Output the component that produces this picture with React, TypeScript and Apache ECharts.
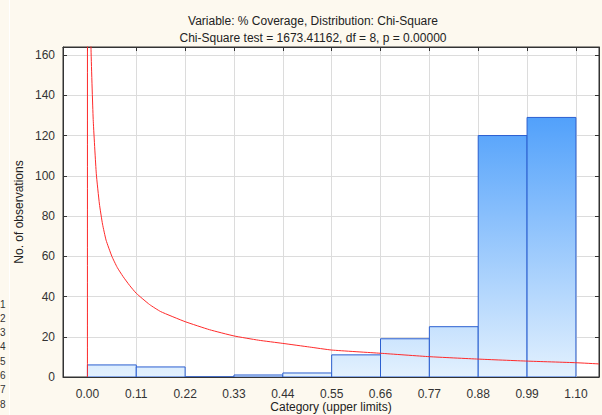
import React, { useEffect, useRef } from "react";
import * as echarts from "echarts";

const titleLine1 = "Variable: % Coverage, Distribution: Chi-Square";
const titleLine2 = "Chi-Square test = 1673.41162, df = 8, p = 0.00000";
const xAxisName = "Category (upper limits)";
const yAxisName = "No. of observations";

const tickValues = [0, 0.11, 0.22, 0.33, 0.44, 0.55, 0.66, 0.77, 0.88, 0.99, 1.1];
const binLower = [0, 0.11, 0.22, 0.33, 0.44, 0.55, 0.66, 0.77, 0.88, 0.99];
const binUpper = [0.11, 0.22, 0.33, 0.44, 0.55, 0.66, 0.77, 0.88, 0.99, 1.1];
const counts = [6, 5, 0, 1, 2, 11, 19, 25, 120, 129];

const curveX = [0, 0.0005, 0.003, 0.008, 0.013, 0.02, 0.027, 0.034, 0.042, 0.055, 0.067, 0.08, 0.095, 0.11, 0.14, 0.165, 0.22, 0.275, 0.33, 0.385, 0.44, 0.5, 0.55, 0.66, 0.77, 0.88, 0.99, 1.1, 1.152];
const curveY = [0, 600, 260, 164, 128, 101, 86, 76, 68, 60, 54.5, 50, 45.5, 41.6, 36, 32.5, 27.5, 23.5, 20.4, 18.3, 16.7, 14.9, 13.4, 11.8, 10.1, 8.9, 7.9, 7.1, 6.5];

const sideDigits = ["1", "2", "3", "4", "5", "6", "7", "8"];

const FONT = "'Liberation Sans', Arial, sans-serif";

export default function App() {
  const ref = useRef<HTMLDivElement>(null);
  useEffect(() => {
    document.body.style.margin = "0";
    if (!ref.current) return;
    const chart = echarts.init(ref.current, undefined, { renderer: "svg" });
    const bins = binLower.map((lo, i) => [lo, binUpper[i], counts[i]]);
    const curve = curveX.map((x, i) => [x, curveY[i]]);
    const stops = [
      { offset: 0, color: "#2a8bfa" },
      { offset: 1, color: "#e3f1fe" },
    ];
    chart.setOption({
      animation: false,
      backgroundColor: "#fdf9ef",
      textStyle: { fontFamily: FONT },
      title: {
        text: titleLine1 + "\n" + titleLine2,
        left: 308,
        top: 7,
        textAlign: "center",
        textStyle: { fontSize: 12, fontWeight: "normal", color: "#222", lineHeight: 17, fontFamily: FONT },
      },
      grid: {
        left: 63,
        right: 3,
        top: 47,
        bottom: 38,
        outerBoundsMode: "none",
        containLabel: false,
        show: true,
        backgroundColor: "#ffffff",
        borderColor: "#333",
        borderWidth: 1,
      },
      graphic: [
        { type: "rect", shape: { x: 9, y: 0, width: 1, height: 415 }, style: { fill: "#ffffff" } },
        ...sideDigits.map((d, i) => ({
          type: "text",
          x: 0,
          y: 304 + i * 14.3,
          style: { text: d, fontSize: 10, fill: "#333", align: "left", verticalAlign: "middle", fontFamily: FONT },
        })),
      ],
      xAxis: [
        {
          type: "value",
          min: -0.055,
          max: 1.152,
          position: "bottom",
          name: xAxisName,
          nameLocation: "middle",
          nameGap: 24,
          nameMoveOverlap: false,
          nameTextStyle: { fontSize: 12, color: "#222", fontFamily: FONT },
          axisLine: { show: true, onZero: false, lineStyle: { color: "#333" } },
          axisTick: { show: false, customValues: tickValues },
          axisLabel: {
            customValues: tickValues,
            formatter: (v: number) => v.toFixed(2),
            fontSize: 12,
            color: "#333",
            margin: 11,
            fontFamily: FONT,
          },
          splitLine: { show: true, lineStyle: { color: "#dcdcdc", width: 1 } },
        },
        {
          type: "value",
          min: -0.055,
          max: 1.152,
          position: "top",
          axisLine: { show: true, onZero: false, lineStyle: { color: "#333" } },
          axisTick: { show: true, inside: true, length: 4, customValues: tickValues, lineStyle: { color: "#333" } },
          axisLabel: { show: false },
          splitLine: { show: false },
        },
      ],
      yAxis: [
        {
          type: "value",
          min: 0,
          max: 164,
          interval: 20,
          position: "left",
          name: yAxisName,
          nameLocation: "middle",
          nameGap: 38,
          nameMoveOverlap: false,
          nameTextStyle: { fontSize: 12, color: "#222", fontFamily: FONT },
          axisLine: { show: true, onZero: false, lineStyle: { color: "#333" } },
          axisTick: { show: true, inside: true, length: 4, lineStyle: { color: "#333" } },
          axisLabel: {
            formatter: (v: number) => (v % 20 === 0 ? String(v) : ""),
            fontSize: 12,
            color: "#333",
            margin: 8,
            fontFamily: FONT,
          },
          splitLine: { show: true, lineStyle: { color: "#dcdcdc", width: 1 } },
        },
        {
          type: "value",
          min: 0,
          max: 164,
          interval: 20,
          position: "right",
          axisLine: { show: true, onZero: false, lineStyle: { color: "#333" } },
          axisTick: { show: true, inside: true, length: 4, lineStyle: { color: "#333" } },
          axisLabel: { show: false },
          splitLine: { show: false },
        },
      ],
      series: [
        {
          type: "custom",
          xAxisIndex: 0,
          yAxisIndex: 0,
          data: bins,
          encode: { x: [0, 1], y: 2 },
          clip: true,
          z: 2,
          renderItem: (params: any, api: any) => {
            const p0 = api.coord([api.value(0), api.value(2)]);
            const p1 = api.coord([api.value(1), 0]);
            const top = api.coord([0, 164])[1];
            const bottom = api.coord([0, 0])[1];
            return {
              type: "rect",
              shape: { x: p0[0], y: p0[1], width: p1[0] - p0[0], height: p1[1] - p0[1] },
              style: {
                fill: new echarts.graphic.LinearGradient(0, top, 0, bottom, stops, true),
                stroke: "#2b5fd0",
                lineWidth: 1,
              },
            };
          },
        },
        {
          type: "line",
          xAxisIndex: 0,
          yAxisIndex: 0,
          data: curve,
          showSymbol: false,
          smooth: 0.15,
          clip: true,
          z: 3,
          lineStyle: { color: "#ff2a2a", width: 1 },
        },
      ],
    });
    return () => chart.dispose();
  }, []);
  return <div ref={ref} style={{ width: 602, height: 415 }} />;
}
